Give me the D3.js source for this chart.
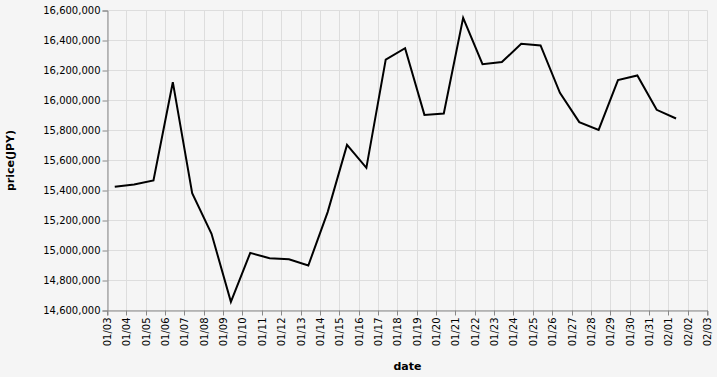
<!DOCTYPE html>
<html>
<head>
<meta charset="utf-8">
<script src="https://cdn.jsdelivr.net/npm/d3@7"></script>
<style>
  html, body { margin: 0; padding: 0; background: #f5f5f5; }
  svg { display: block; font-family: "DejaVu Sans", sans-serif; }
</style>
</head>
<body>
<svg id="chart" width="717" height="377"></svg>
<script>
// daily closing prices (JPY), one per day from 01/03 to 02/01
const days = [
  '01-03', '01-04', '01-05', '01-06', '01-07', '01-08', '01-09', '01-10',
  '01-11', '01-12', '01-13', '01-14', '01-15', '01-16', '01-17', '01-18',
  '01-19', '01-20', '01-21', '01-22', '01-23', '01-24', '01-25', '01-26',
  '01-27', '01-28', '01-29', '01-30', '01-31', '02-01'
];
const prices = [
  15425000, 15440000, 15467000, 16122000, 15382000, 15111000, 14658000, 14984000,
  14949000, 14942000, 14900000, 15256000, 15704000, 15551000, 16273000, 16349000,
  15904000, 15913000, 16551000, 16242000, 16256000, 16378000, 16367000, 16051000,
  15856000, 15804000, 16136000, 16167000, 15938000, 15880000
];
const yTicks = [14600000, 14800000, 15000000, 15200000, 15400000, 15600000,
  15800000, 16000000, 16200000, 16400000, 16600000];
const xStart = '2021-01-03';
const xEnd = '2021-02-03';

const data = days.map((d, i) => ({
  date: new Date(`2021-${d}T09:00:00Z`),
  price: prices[i]
}));

const margin = { top: 10.5, left: 107.5 };
const W = 600, H = 300;

const svg = d3.select('#chart');
svg.append('rect').attr('width', 717).attr('height', 377).attr('fill', '#f5f5f5');

const g = svg.append('g').attr('transform', `translate(${margin.left},${margin.top})`);

const x = d3.scaleUtc()
  .domain([new Date(xStart + 'T00:00:00Z'), new Date(xEnd + 'T00:00:00Z')])
  .range([0, W]);
const y = d3.scaleLinear()
  .domain([yTicks[0], yTicks[yTicks.length - 1]])
  .range([H, 0]);

const xTicks = d3.utcDay.range(x.domain()[0], d3.utcDay.offset(x.domain()[1], 1));

// grid
g.append('g').selectAll('line')
  .data(xTicks)
  .join('line')
  .attr('x1', d => Math.round(x(d)))
  .attr('x2', d => Math.round(x(d)))
  .attr('y1', 0).attr('y2', H)
  .attr('stroke', '#ddd');
g.append('g').selectAll('line')
  .data(yTicks)
  .join('line')
  .attr('x1', 0).attr('x2', W)
  .attr('y1', d => y(d)).attr('y2', d => y(d))
  .attr('stroke', '#ddd');

// axes
const fmt = d3.format(',');
const yAxis = g.append('g')
  .call(d3.axisLeft(y).tickValues(yTicks).tickFormat(fmt).tickSize(5).tickPadding(2));
const xAxis = g.append('g')
  .attr('transform', `translate(0,${H})`)
  .call(d3.axisBottom(x).tickValues(xTicks).tickFormat(d3.utcFormat('%m/%d')).tickSize(5));

[yAxis, xAxis].forEach(a => {
  a.select('.domain').attr('stroke', '#888');
  a.selectAll('.tick line').attr('stroke', '#888');
  a.selectAll('.tick text')
    .attr('fill', '#000')
    .attr('font-size', 10)
    .attr('font-family', '"DejaVu Sans", sans-serif');
});
xAxis.selectAll('.tick')
  .attr('transform', d => `translate(${Math.round(x(d))},0)`);
xAxis.selectAll('.tick text')
  .attr('transform', 'translate(0,7) rotate(-90)')
  .attr('text-anchor', 'end')
  .attr('x', 0).attr('y', 0)
  .attr('dy', '0.35em');

// line
const line = d3.line()
  .x(d => x(d.date))
  .y(d => y(d.price));
g.append('path')
  .datum(data)
  .attr('fill', 'none')
  .attr('stroke', '#000')
  .attr('stroke-width', 2)
  .attr('d', line);

// titles
svg.append('text')
  .attr('x', margin.left + W / 2)
  .attr('y', 370)
  .attr('text-anchor', 'middle')
  .attr('font-size', 11)
  .attr('font-weight', 'bold')
  .text('date');
svg.append('text')
  .attr('transform', `translate(14,${margin.top + H / 2}) rotate(-90)`)
  .attr('text-anchor', 'middle')
  .attr('font-size', 11)
  .attr('font-weight', 'bold')
  .text('price(JPY)');
</script>
</body>
</html>
